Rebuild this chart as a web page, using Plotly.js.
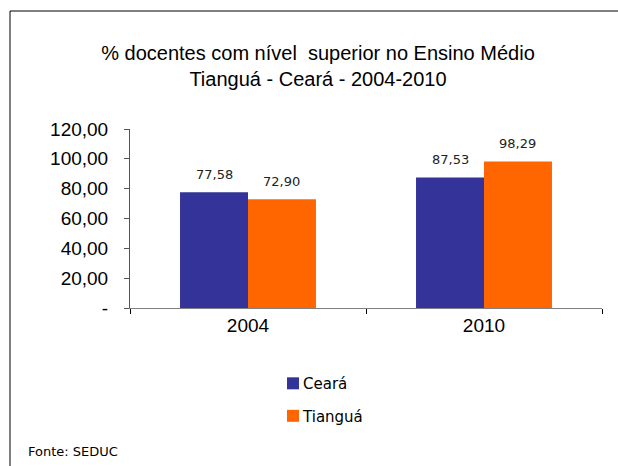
<!DOCTYPE html>
<html><head><meta charset="utf-8">
<script src="https://cdn.plot.ly/plotly-3.0.1.min.js"></script>
<style>html,body{margin:0;padding:0;background:#fff}#c{width:618px;height:466px}</style>
</head><body><div id="c"></div>
<script>
var categories = ["2004", "2010"];
var seriesNames = ["Ceará", "Tianguá"];
var ceara = [77.58, 87.53];
var tiangua = [72.90, 98.29];
var tickVals = [0, 20, 40, 60, 80, 100, 120];
var tickText = ["-", "20,00", "40,00", "60,00", "80,00", "100,00", "120,00"];
var colors = ["#333399", "#FF6600"];

var series = [ceara, tiangua];
var traces = series.map(function(vals, i){
  return {type:'bar', x:categories, y:vals, name:seriesNames[i],
    marker:{color:colors[i]}, legendgroup:'g'+i, hoverinfo:'skip'};
});

var annotations = [];
var bargap = 0.424;
var barW = (1 - bargap) / 2;
series.forEach(function(vals, i){
  vals.forEach(function(v, j){
    annotations.push({x: j + (i - 0.5) * barW, y: v, xref:'x', yref:'y',
      text: v.toFixed(2).replace('.', ','), showarrow:false,
      yanchor:'bottom', yshift:8,
      font:{family:'DejaVu Sans', size:13, color:'#222'}});
  });
});
annotations.push({x:-0.22, y:-0.80, xref:'paper', yref:'paper', xanchor:'left', yanchor:'middle',
  text:'Fonte: SEDUC', showarrow:false, font:{family:'DejaVu Sans', size:13, color:'#000'}});

var layout = {
  width:618, height:466,
  margin:{l:130, r:16, t:129, b:158},
  paper_bgcolor:'#fff', plot_bgcolor:'#fff',
  separators:',.',
  barmode:'group', bargap:bargap, bargroupgap:0,
  title:{text:'% docentes com nível  superior no Ensino Médio<br>Tianguá - Ceará - 2004-2010',
    x:318/618, xanchor:'center', xref:'container', y:1-60/466, yanchor:'top', yref:'container',
    font:{family:'Liberation Sans, Arial', size:20, color:'#000'}},
  xaxis:{type:'category', showline:true, linecolor:'#808080', linewidth:1,
    ticks:'outside', tickson:'boundaries', ticklen:5, tickcolor:'#000',
    tickfont:{family:'Liberation Sans, Arial', size:19, color:'#000'}, showgrid:false, zeroline:false},
  yaxis:{range:[0,120], tickvals:tickVals, ticktext:tickText, showline:true, linecolor:'#555', linewidth:1,
    ticks:'outside', ticklen:5, tickcolor:'#555', ticklabelstandoff:12,
    tickfont:{family:'Liberation Sans, Arial', size:19, color:'#000'}, showgrid:false, zeroline:false},
  showlegend:true,
  legend:{x:0.303, y:-0.33, xanchor:'left', yanchor:'top', orientation:'v', tracegroupgap:10,
    font:{family:'DejaVu Sans', size:15, color:'#000'}, bgcolor:'rgba(0,0,0,0)'},
  annotations:annotations,
  shapes:[
    {type:'line', xref:'paper', yref:'paper', x0:(10-130)/472, x1:(620-130)/472, y0:(308-11)/179, y1:(308-11)/179, line:{color:'#000', width:1}},
    {type:'line', xref:'paper', yref:'paper', x0:(10-130)/472, x1:(10-130)/472, y0:(308-11)/179, y1:(308-470)/179, line:{color:'#000', width:1}}
  ]
};
Plotly.newPlot('c', traces, layout, {displayModeBar:false, staticPlot:true}).then(function(){
  document.querySelectorAll('#c .legendtext').forEach(function(t){
    t.setAttribute('x', parseFloat(t.getAttribute('x')) - 10);
  });
});
</script></body></html>
